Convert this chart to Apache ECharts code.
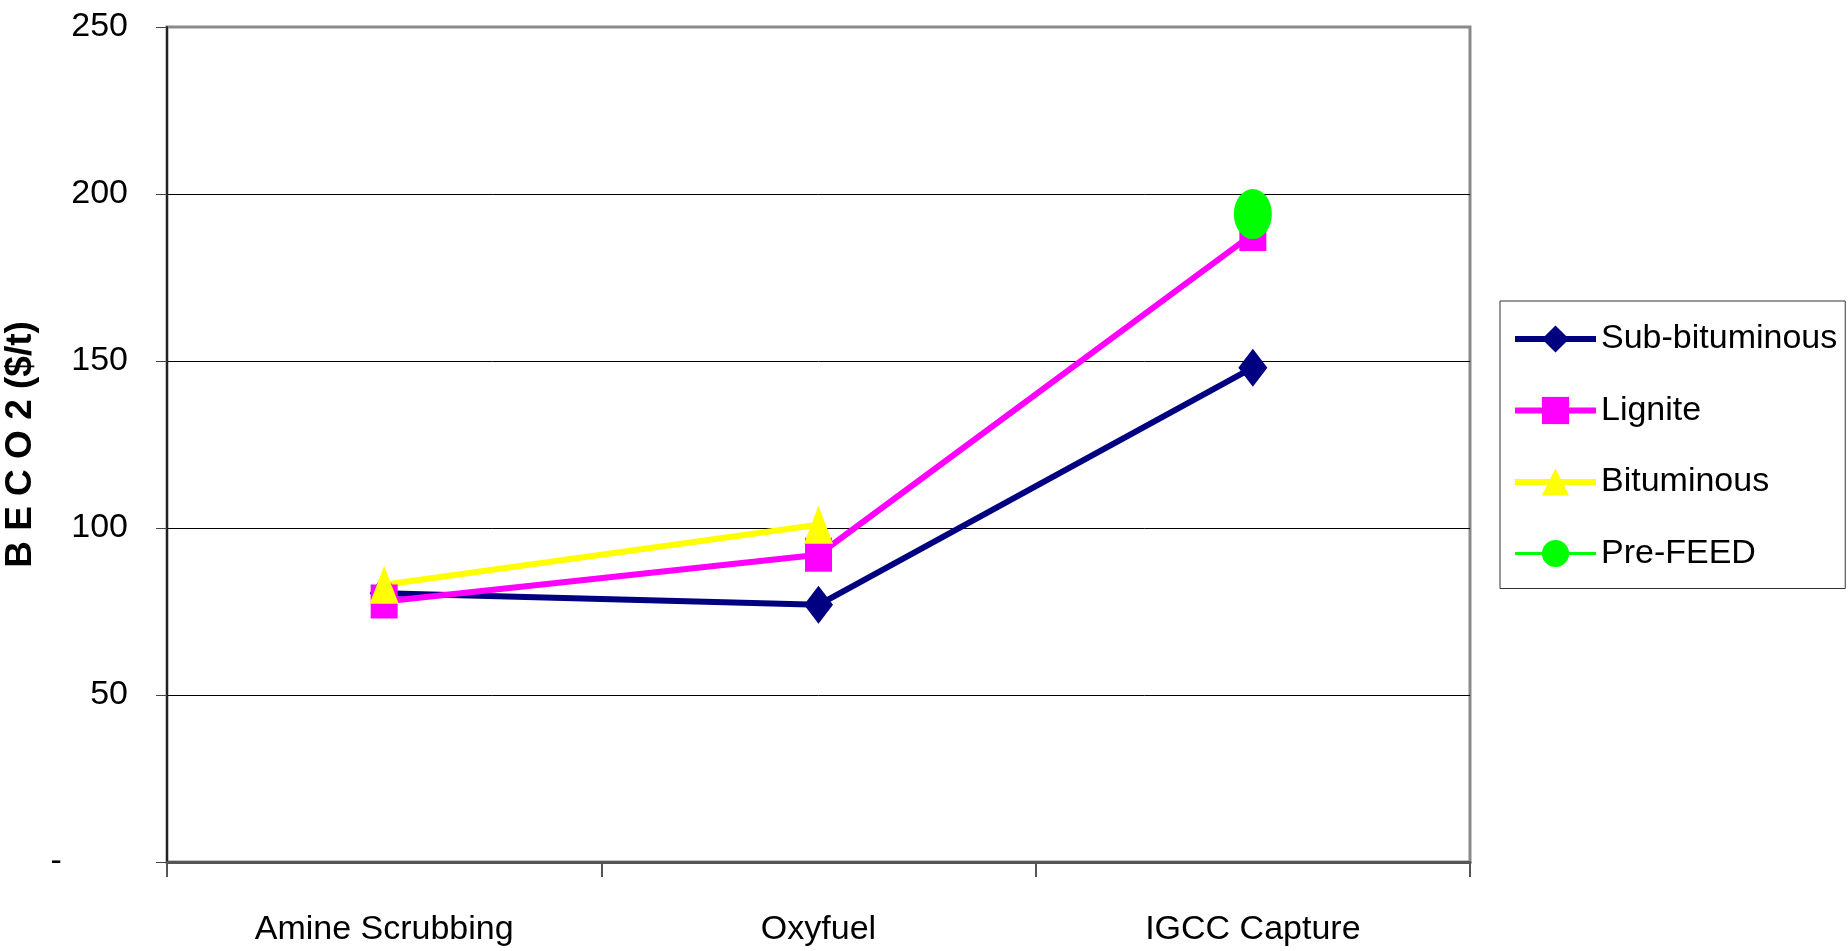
<!DOCTYPE html>
<html>
<head>
<meta charset="utf-8">
<script src="https://cdn.jsdelivr.net/npm/echarts@6/dist/echarts.min.js"></script>
<style>
html,body{margin:0;padding:0;background:#fff;}
#chart{width:1848px;height:951px;}
</style>
</head>
<body>
<div id="chart"></div>
<script>
const categories = ['Amine Scrubbing', 'Oxyfuel', 'IGCC Capture'];
const subBituminous = [80.5, 77, 148];
const lignite = [78, 92, 188];
const bituminous = [83, 101, null];
const preFeed = [null, null, 194];
const seriesNames = ['Sub-bituminous', 'Lignite', 'Bituminous', 'Pre-FEED'];
const yTitle = 'B E C O 2 ($/t)';

const font = "'Liberation Sans', Arial, sans-serif";

const chart = echarts.init(document.getElementById('chart'), null, {renderer: 'canvas'});
chart.setOption({
  animation: false,
  backgroundColor: '#ffffff',
  grid: {
    left: 167, right: 378, top: 27, bottom: 89,
    containLabel: false,
    outerBoundsMode: 'none',
    show: true, borderColor: '#8a8a8a', borderWidth: 3, backgroundColor: 'transparent'
  },
  legend: {
    orient: 'vertical',
    left: 1500, top: 301,
    padding: [21, 8, 18, 12],
    itemWidth: 81, itemHeight: 34, itemGap: 37.5,
    borderColor: '#333', borderWidth: 1,
    textStyle: {fontFamily: font, fontSize: 34, color: '#000'},
    data: [
      {name: seriesNames[0], lineStyle: {width: 6}},
      {name: seriesNames[1], lineStyle: {width: 6}},
      {name: seriesNames[2], lineStyle: {width: 6}},
      {name: seriesNames[3], lineStyle: {width: 3}}
    ]
  },
  xAxis: {
    type: 'category',
    data: categories,
    boundaryGap: true,
    axisLine: {lineStyle: {color: '#555', width: 3}},
    axisTick: {show: true, length: 15, interval: 0, lineStyle: {color: '#555', width: 2}},
    axisLabel: {fontFamily: font, fontSize: 34, color: '#000', margin: 51, interval: 0},
    splitLine: {show: false}
  },
  yAxis: {
    type: 'value',
    min: 0, max: 250, interval: 50,
    name: yTitle,
    nameLocation: 'middle',
    nameRotate: 90,
    nameGap: 121,
    nameTextStyle: {fontFamily: font, fontWeight: 'bold', fontSize: 37, color: '#000'},
    axisLine: {show: true, lineStyle: {color: '#222', width: 2}},
    axisTick: {show: true, length: 11, lineStyle: {color: '#444', width: 1}},
    axisLabel: {
      fontFamily: font, fontSize: 34, color: '#000', margin: 39,
      formatter: function (v) { return v === 0 ? '-       ' : String(v); }
    },
    splitLine: {show: true, showMinLine: false, showMaxLine: false, lineStyle: {color: '#000', width: 1}}
  },
  series: [
    {
      name: seriesNames[0], type: 'line', data: subBituminous,
      symbol: 'diamond', symbolSize: [29, 38],
      lineStyle: {color: '#000080', width: 6},
      itemStyle: {color: '#000080'}
    },
    {
      name: seriesNames[1], type: 'line', data: lignite,
      symbol: 'rect', symbolSize: [27, 34],
      lineStyle: {color: '#ff00ff', width: 6},
      itemStyle: {color: '#ff00ff'}
    },
    {
      name: seriesNames[2], type: 'line', data: bituminous,
      symbol: 'triangle', symbolSize: [29, 38],
      lineStyle: {color: '#ffff00', width: 6},
      itemStyle: {color: '#ffff00'}
    },
    {
      name: seriesNames[3], type: 'line', data: preFeed,
      symbol: 'circle', symbolSize: [38, 50],
      lineStyle: {color: '#00ff00', width: 3},
      itemStyle: {color: '#00ff00'}
    }
  ]
});
</script>
</body>
</html>
